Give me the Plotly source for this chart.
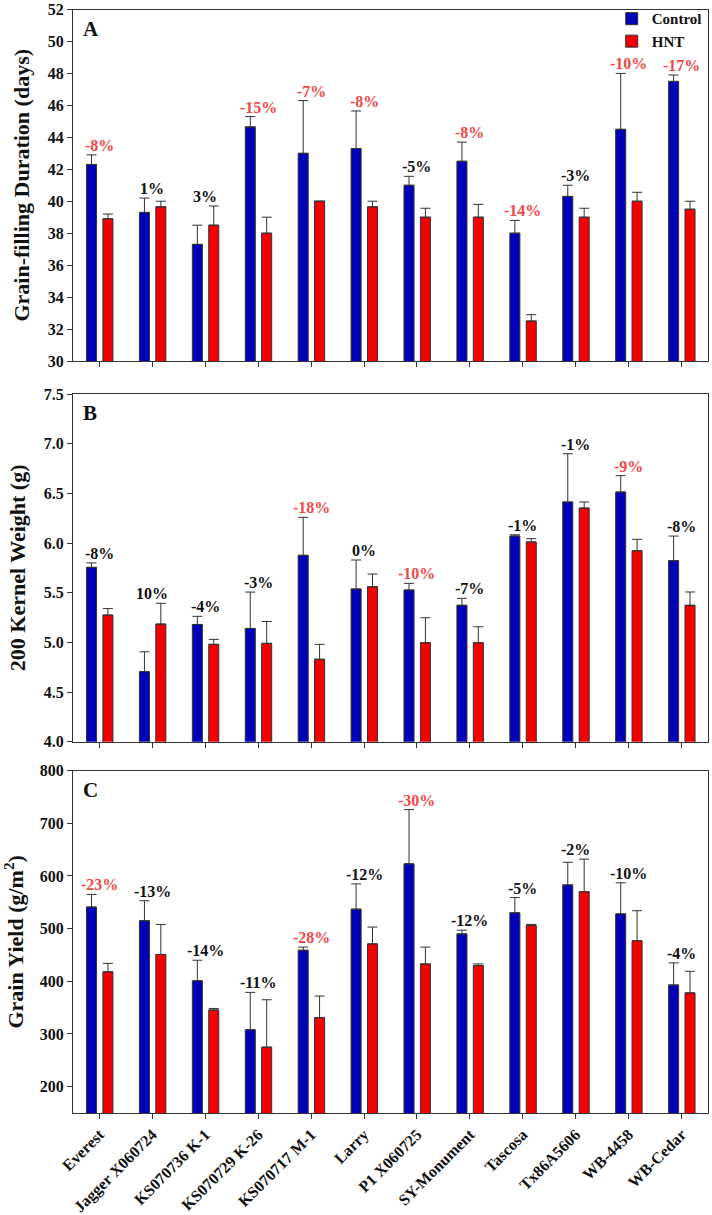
import plotly.graph_objects as go

categories = ["Everest", "Jagger X060724", "KS070736 K-1", "KS070729 K-26", "KS070717 M-1",
              "Larry", "P1 X060725", "SY-Monument", "Tascosa", "Tx86A5606", "WB-4458", "WB-Cedar"]

# Panel A: grain-filling duration (days)
gfd_control = [42.3, 39.3, 37.3, 44.65, 43.0, 43.3, 41.0, 42.5, 38.0, 40.3, 44.5, 47.5]
gfd_control_err = [0.6, 0.9, 1.2, 0.65, 3.3, 2.35, 0.56, 1.2, 0.8, 0.7, 3.5, 0.4]
gfd_hnt = [38.9, 39.65, 38.5, 38.0, 40.0, 39.65, 39.0, 39.0, 32.5, 39.0, 40.0, 39.5]
gfd_hnt_err = [0.3, 0.35, 1.2, 1.0, 0.0, 0.35, 0.56, 0.8, 0.4, 0.56, 0.56, 0.5]
gfd_pct = ["-8%", "1%", "3%", "-15%", "-7%", "-8%", "-5%", "-8%", "-14%", "-3%", "-10%", "-17%"]
gfd_sig = [True, False, False, True, True, True, False, True, True, False, True, True]

# Panel B: 200 kernel weight (g)
kw_control = [5.755, 4.705, 5.18, 5.14, 5.876, 5.537, 5.527, 5.373, 6.07, 6.413, 6.513, 5.822]
kw_control_err = [0.045, 0.2, 0.082, 0.366, 0.382, 0.292, 0.067, 0.07, 0.013, 0.486, 0.165, 0.248]
kw_hnt = [5.275, 5.184, 4.98, 4.99, 4.83, 5.56, 4.996, 4.996, 6.01, 6.352, 5.922, 5.373]
kw_hnt_err = [0.065, 0.209, 0.05, 0.22, 0.15, 0.128, 0.252, 0.161, 0.034, 0.061, 0.115, 0.134]
kw_pct = ["-8%", "10%", "-4%", "-3%", "-18%", "0%", "-10%", "-7%", "-1%", "-1%", "-9%", "-8%"]
kw_sig = [False, False, False, False, True, False, True, False, False, False, True, False]

# Panel C: grain yield (g/m2)
gy_control = [541, 515, 401, 308, 459, 537, 623, 490, 530, 583, 528, 393]
gy_control_err = [24, 38, 39, 71, 6, 48, 103, 7, 29, 43, 59, 42]
gy_hnt = [418, 451, 345.5, 275, 331, 471, 433, 430, 506, 570, 477, 378]
gy_hnt_err = [16, 57, 3, 90, 41, 32, 32, 3, 2, 62, 57, 41]
gy_pct = ["-23%", "-13%", "-14%", "-11%", "-28%", "-12%", "-30%", "-12%", "-5%", "-2%", "-10%", "-4%"]
gy_sig = [True, False, False, False, True, False, True, False, False, False, False, False]

BLUE = "#0000b8"
RED = "#f40000"
SIG_RED = "#f04848"
FONT = "Liberation Serif"

W, H = 712, 1215
M_L, M_R, M_T, M_B = 73, 4, 9, 102
ph = H - M_T - M_B


def dom(top_px, bot_px):
    return [(H - M_B - bot_px) / ph, (H - M_B - top_px) / ph]


fig = go.Figure()

panels = [
    ("y", gfd_control, gfd_control_err, gfd_hnt, gfd_hnt_err, gfd_pct, gfd_sig),
    ("y2", kw_control, kw_control_err, kw_hnt, kw_hnt_err, kw_pct, kw_sig),
    ("y3", gy_control, gy_control_err, gy_hnt, gy_hnt_err, gy_pct, gy_sig),
]
xrefs = ["x", "x2", "x3"]

annotations = []
for i, (yr, c, ce, h, he, pct, sig) in enumerate(panels):
    xr = xrefs[i]
    fig.add_trace(go.Bar(
        x=categories, y=c, name="Control", xaxis=xr, yaxis=yr,
        marker=dict(color=BLUE, line=dict(color="#333333", width=1)),
        width=0.19, offset=-0.245, showlegend=(i == 0),
        error_y=dict(type="data", array=ce, arrayminus=[0] * len(ce), symmetric=False,
                     color="#333333", thickness=1, width=5),
    ))
    fig.add_trace(go.Bar(
        x=categories, y=h, name="HNT", xaxis=xr, yaxis=yr,
        marker=dict(color=RED, line=dict(color="#333333", width=1)),
        width=0.19, offset=0.065, showlegend=(i == 0),
        error_y=dict(type="data", array=he, arrayminus=[0] * len(he), symmetric=False,
                     color="#333333", thickness=1, width=5),
    ))
    for k, cat in enumerate(categories):
        top = max(c[k] + ce[k], h[k] + he[k])
        annotations.append(dict(
            x=cat, y=top, xref=xr, yref=yr, text=pct[k], showarrow=False,
            yanchor="bottom", yshift=-1,
            font=dict(family=FONT, size=16, color=SIG_RED if sig[k] else "#111111", weight="bold"),
        ))

for letter, yr in zip(["A", "B", "C"], ["y", "y2", "y3"]):
    annotations.append(dict(
        text="<b>" + letter + "</b>", xref=("x" if yr == "y" else "x" + yr[1]) + " domain",
        yref=yr + " domain", x=0.012, y=0.985, xanchor="left", yanchor="top", showarrow=False,
        font=dict(family=FONT, size=21, color="#111111"),
    ))

axis_common = dict(showline=True, linecolor="#333333", linewidth=1, mirror=True,
                   showgrid=False, zeroline=False, ticks="outside", ticklen=5,
                   tickcolor="#333333", automargin=False,
                   tickfont=dict(family=FONT, size=16, color="#111111", weight="bold"))

title_font = dict(family=FONT, size=22, color="#111111", weight="bold")

fig.update_layout(
    width=W, height=H,
    margin=dict(l=M_L, r=M_R, t=M_T, b=M_B, autoexpand=False),
    paper_bgcolor="white", plot_bgcolor="white",
    barmode="overlay",
    annotations=annotations,
    legend=dict(x=0.998, xanchor="right", y=1.006, yanchor="top", bgcolor="rgba(0,0,0,0)",
                font=dict(family=FONT, size=15, color="#111111", weight="bold"),
                tracegroupgap=0, itemwidth=30),
    xaxis=dict(domain=[0, 1], anchor="y", showticklabels=False, range=[-0.5, 11.5], **axis_common),
    xaxis2=dict(domain=[0, 1], anchor="y2", showticklabels=False, range=[-0.5, 11.5], **axis_common),
    xaxis3=dict(domain=[0, 1], anchor="y3", tickangle=-45, range=[-0.5, 11.5], **axis_common),
    yaxis=dict(domain=dom(9.5, 361), anchor="x", range=[30, 52], dtick=2, tick0=30,
               title=dict(text="Grain-filling Duration (days)", font=title_font, standoff=12),
               **axis_common),
    yaxis2=dict(domain=dom(394, 741.7), anchor="x2", range=[4.0, 7.5], dtick=0.5, tick0=4,
                tickformat=".1f",
                title=dict(text="200 Kernel Weight (g)", font=title_font, standoff=12),
                **axis_common),
    yaxis3=dict(domain=dom(770.6, 1113), anchor="x3", range=[150, 800], dtick=100, tick0=200,
                title=dict(text="Grain Yield (g/m<sup>2</sup>)", font=title_font, standoff=12),
                **axis_common),
)

fig.write_html("out.html", config={"displayModeBar": False},
               post_script="document.body.style.margin='0px';")
